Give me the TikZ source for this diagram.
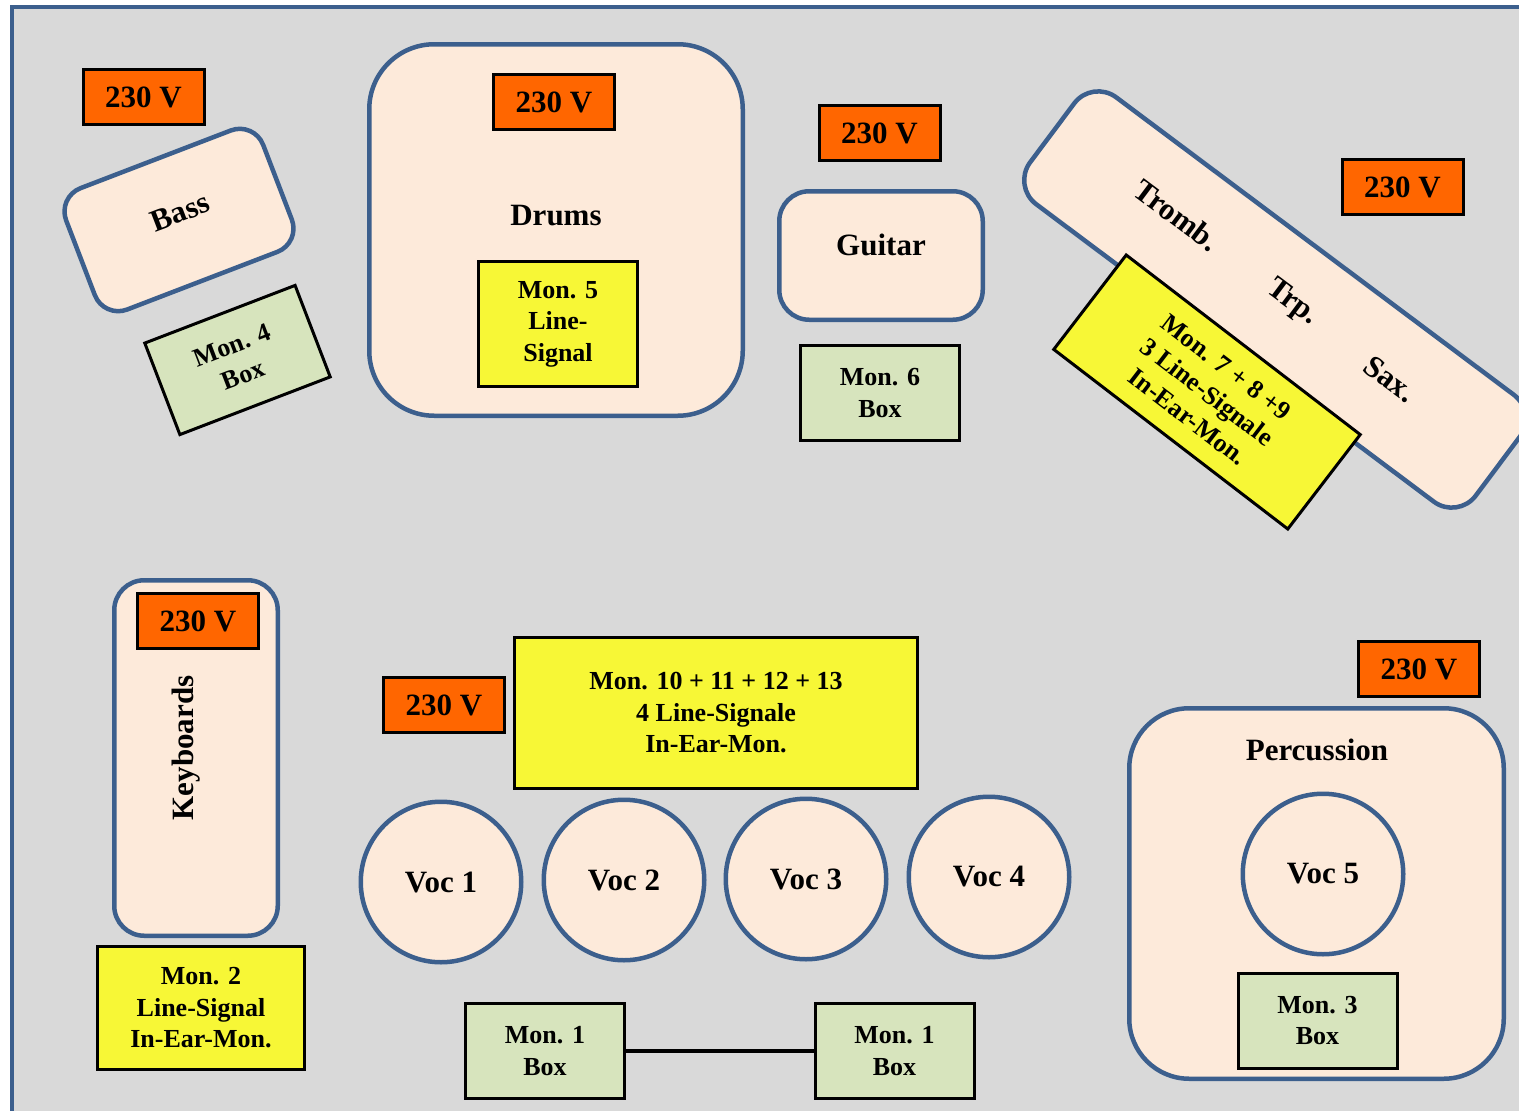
\documentclass[tikz,border=0pt]{standalone}
\usepackage{fontspec}
\setmainfont{Liberation Serif}
\definecolor{stagegray}{HTML}{D9D9D9}
\definecolor{areablue}{HTML}{3C5F8D}
\definecolor{areafill}{HTML}{FDEADA}
\definecolor{poweror}{HTML}{FF6600}
\definecolor{inearyel}{HTML}{F7F736}
\definecolor{wedgegrn}{HTML}{D7E4BD}
\newcommand{\bigtxt}{\fontsize{31}{37}\selectfont\bfseries}
\newcommand{\montxt}{\fontsize{26}{31.5}\selectfont\bfseries}
\begin{document}
\begin{tikzpicture}[x=1pt,y=-1pt,
    area/.style={draw=areablue,fill=areafill,line width=4.5pt,rounded corners=#1},
    area/.default=30pt,
    power/.style={draw=black,fill=poweror,line width=3pt,minimum width=121pt,minimum height=55pt,font=\bigtxt},
    inear/.style={draw=black,fill=inearyel,line width=3pt,align=center,font=\montxt},
    wedge/.style={draw=black,fill=wedgegrn,line width=3pt,align=center,font=\montxt,minimum width=159pt,minimum height=95pt},
    voc/.style={circle,draw=areablue,fill=areafill,line width=4.5pt,minimum size=160.5pt,font=\bigtxt},
    lbl/.style={font=\bigtxt,align=center}]
    \useasboundingbox (0,0) rectangle (1519,1111);
    \fill[stagegray] (12,7) rectangle (1519,1111);
    \draw[areablue,line width=4.5pt] (12,1111) -- (12,7) -- (1519,7);

    \node[area=25pt,minimum width=211pt,minimum height=130pt,rotate=21] (bass) at (179,220) {};
    \node[lbl,rotate=21] (basslbl) at (180,212) {Bass};
    \node[wedge,minimum width=161pt,minimum height=98pt,rotate=21] (mon4) at (237.5,360) {Mon. 4\\Box};
    \node[power] (pbass) at (143.5,97) {230 V};

    \node[area=65pt,minimum width=373.5pt,minimum height=371.5pt] (drums) at (556,230) {};
    \node[power] (pdrums) at (554,102) {230 V};
    \node[lbl] (drumslbl) at (556,216) {Drums};
    \node[inear,minimum width=159pt,minimum height=125pt] (mon5) at (558,324) {Mon. 5\\Line-\\Signal};

    \node[power] (pguitar) at (879.5,133) {230 V};
    \node[area,minimum width=203.5pt,minimum height=128.5pt] (guitar) at (881,255.5) {};
    \node[lbl] (guitarlbl) at (881,245) {Guitar};
    \node[wedge] (mon6) at (880,393) {Mon. 6\\Box};

    \node[area,minimum width=556.5pt,minimum height=133.5pt,rotate=-36.8] (brass) at (1275,299.5) {};
    \node[lbl,rotate=-36.8] (tromb) at (1177,215) {Tromb.};
    \node[lbl,rotate=-36.8] (trp) at (1292,303) {Trp.};
    \node[lbl,rotate=-36.8] (sax) at (1390,379) {Sax.};
    \node[inear,minimum width=295pt,minimum height=119pt,rotate=-37.5] (mon7) at (1207,392)
        {Mon. 7 + 8 +9\\3 Line-Signale\\In-Ear-Mon.};
    \node[power] (pbrass) at (1402.5,187) {230 V};

    \node[area,minimum width=163.5pt,minimum height=355.5pt] (keys) at (196,758) {};
    \node[power] (pkeys) at (198,621) {230 V};
    \node[lbl,rotate=90] (keyslbl) at (186,748) {Keyboards};
    \node[inear,minimum width=207pt,minimum height=123pt] (mon2) at (201,1008)
        {Mon. 2\\Line-Signal\\In-Ear-Mon.};

    \node[power] (pvoc) at (444,705) {230 V};
    \node[inear,minimum width=403pt,minimum height=151pt] (mon10) at (716,713)
        {Mon. 10 + 11 + 12 + 13\\4 Line-Signale\\In-Ear-Mon.};
    \node[voc] (voc1) at (441,882) {Voc 1};
    \node[voc] (voc2) at (624,880) {Voc 2};
    \node[voc] (voc3) at (806,879) {Voc 3};
    \node[voc] (voc4) at (989,877) {Voc 4};
    \node[wedge] (mon1a) at (545,1051) {Mon. 1\\Box};
    \node[wedge] (mon1b) at (894.5,1051) {Mon. 1\\Box};
    \draw[line width=4pt] (mon1a) -- (mon1b);

    \node[power] (pperc) at (1419,669) {230 V};
    \node[area=60pt,minimum width=374.5pt,minimum height=370.5pt] (perc) at (1316.5,893.5) {};
    \node[lbl] (perclbl) at (1317,750) {Percussion};
    \node[voc] (voc5) at (1323,874) {Voc 5};
    \node[wedge] (mon3) at (1317.5,1020.5) {Mon. 3\\Box};
\end{tikzpicture}
\end{document}
